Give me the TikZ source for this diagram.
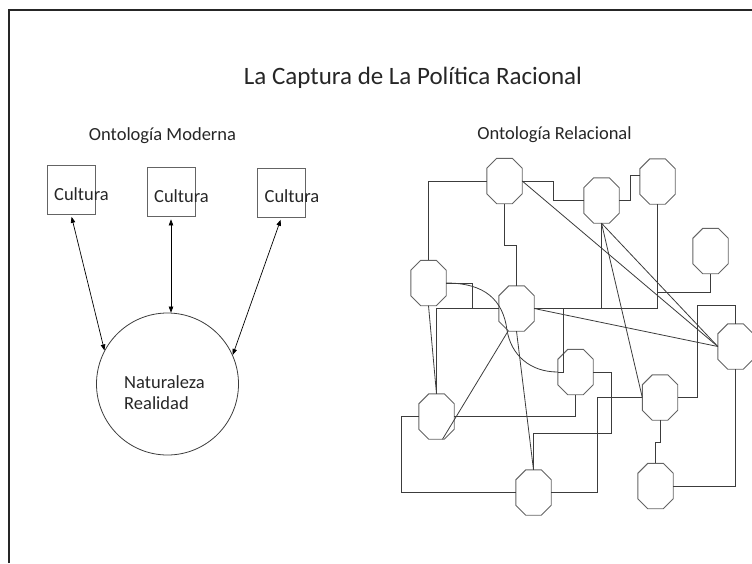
\documentclass[tikz,border=0pt]{standalone}
\usepackage{fontspec}
\setmainfont{Carlito}
\usetikzlibrary{arrows.meta}
\definecolor{lc}{RGB}{60,60,60}
\definecolor{oc}{RGB}{100,100,100}
\tikzset{
  txt/.style={inner sep=0pt, font=\fontsize{18.5}{21}\selectfont, text=black!85},
  cbox/.style={draw=oc, line width=0.8pt, minimum width=48pt, minimum height=49pt, inner sep=0pt},
  octnode/.style={draw=none, minimum width=35pt, minimum height=45pt, inner sep=0pt},
  octline/.style={draw=oc, line width=0.9pt},
  wire/.style={draw=lc, line width=0.8pt},
  dbl/.style={draw=black, line width=0.7pt, {Triangle[length=6pt,width=4.5pt]}-{Triangle[length=6pt,width=4.5pt]}}
}
\begin{document}
\begin{tikzpicture}[x=1pt,y=-1pt]
\useasboundingbox (0,0) rectangle (752,563);
% frame
\draw[line width=1.6pt, black!85] (9,563) -- (9,10) -- (752,10);

% titles
\node[inner sep=0pt, anchor=base, font=\fontsize{25}{30}\selectfont, text=black!85] (title) at (413,84) {La Captura de La Política Racional};
\node[txt, anchor=base] (om) at (162.5,140) {Ontología Moderna};
\node[txt, anchor=base] (orl) at (554.5,139) {Ontología Relacional};

% left part
\node[cbox] (c1) at (71,189.5) {};
\node[cbox] (c2) at (171,192) {};
\node[cbox] (c3) at (281.5,192.5) {};
\node[txt, anchor=base] (t1) at (81.5,200) {Cultura};
\node[txt, anchor=base] (t2) at (181.5,202) {Cultura};
\node[txt, anchor=base] (t3) at (292,202) {Cultura};
\node[circle, draw=lc, line width=0.8pt, minimum size=142pt, inner sep=0pt] (nat) at (167.5,384) {};
\node[txt, anchor=base west] (n1) at (124,388) {Naturaleza};
\node[txt, anchor=base west] (n2) at (124,409) {Realidad};
\draw[dbl, shorten <=2.5pt] (c1.south) -- (nat.152);
\draw[dbl, shorten <=2.5pt] (c2.south) -- (c2.south |- nat.north);
\draw[dbl, shorten <=2.5pt] (c3.south) -- (nat.24);

% network nodes
\node[octnode] (A) at (504.5,181) {};
\node[octnode] (B) at (601.5,200.5) {};
\node[octnode] (C) at (657.5,181.5) {};
\node[octnode] (D) at (710.5,251) {};
\node[octnode] (E) at (428.5,283) {};
\node[octnode] (F) at (516.5,308.5) {};
\node[octnode] (G) at (735.5,346.5) {};
\node[octnode] (H) at (575.5,372) {};
\node[octnode] (I) at (660,397.5) {};
\node[octnode] (J) at (436.5,416.5) {};
\node[octnode] (K) at (533.5,492.5) {};
\node[octnode] (L) at (655.5,486) {};
\foreach \n in {A,B,C,D,E,F,G,H,I,J,K,L}{
  \draw[octline] ([xshift=10pt]\n.north west) -- ([xshift=-10pt]\n.north east) -- ([yshift=-10pt]\n.north east) -- ([yshift=10pt]\n.south east) -- ([xshift=-10pt]\n.south east) -- ([xshift=10pt]\n.south west) -- ([yshift=10pt]\n.south west) -- ([yshift=-10pt]\n.north west) -- cycle;
}
\coordinate (dj) at (C.south |- 0,292);

% connectors
\draw[wire] (A.west) -| (E.north);
\draw[wire] (A.east) -- ++(31,0) |- (B.west);
\draw[wire] (B.east) -- ++(11,0) |- ([yshift=6pt]C.west);
\draw[wire] (A.south) -- ++(0,41.5) -| (F.north);
\draw[wire] (A.east) -- (G.west);
\draw[wire] (B.south) -- (B.south |- F.east);
\draw[wire] (B.south) -- (G.west);
\draw[wire] (B.south) -- (I.west);
\draw[wire] (F.east) -| (C.south);
\draw[wire] (D.south) |- (dj);
\draw[wire] (E.east) -- ++(26,0) |- (F.west);
\draw[wire] (E.east) .. controls (485,283) and (503,300) .. (507,330) .. controls (511,355) and (530,372) .. (H.west);
\draw[wire] (E.south) -- (J.north);
\draw[wire] (J.north) |- (F.west);
\draw[wire] ([xshift=-8.5pt]F.south) -- ([xshift=6pt]J.south);
\draw[wire] (F.south) -- (K.north);
\draw[wire] (F.east) -- (G.west);
\draw[wire] (F.east) -- ++(29.5,0) |- (H.west);
\draw[wire] (H.south) |- (J.east);
\draw[wire] (H.east) -- ++(18,0) -- ++(0,61) -| (K.north);
\draw[wire] (J.west) -- ++(-17,0) |- (K.west);
\draw[wire] (K.east) -- ++(46,0) |- (I.west);
\draw[wire] (I.east) -- ++(20,0) |- ([yshift=18pt]G.north) -- (G.north);
\draw[wire] (I.south) -- ++(0,22) -| (L.north);
\draw[wire] (L.east) -| (G.south);
\end{tikzpicture}
\end{document}
